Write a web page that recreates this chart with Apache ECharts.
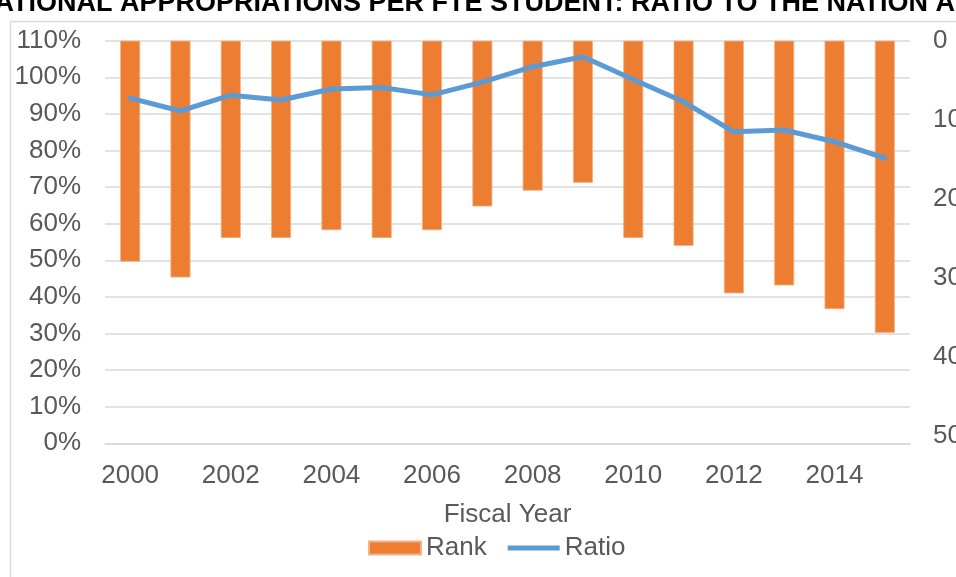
<!DOCTYPE html>
<html>
<head>
<meta charset="utf-8">
<script src="https://cdn.jsdelivr.net/npm/echarts@6/dist/echarts.min.js"></script>
<style>
  html, body { margin: 0; padding: 0; background: #fff; }
  #chart { width: 956px; height: 577px; }
</style>
</head>
<body>
<div id="chart"></div>
<script>
// Fiscal years on the category axis
const years = ['2000','2001','2002','2003','2004','2005','2006','2007',
               '2008','2009','2010','2011','2012','2013','2014','2015'];
// State rank among 51 (50 states + DC), drawn on the inverted right axis
const rank = [28, 30, 25, 25, 24, 25, 24, 21, 19, 18, 25, 26, 32, 31, 34, 37];
// Ratio to the national average, in percent
const ratio = [94.3, 90.8, 95.1, 93.8, 96.8, 97.2, 95.2, 98.7,
               102.9, 105.6, 99.4, 93.3, 85.1, 85.6, 82.4, 77.9];
const titleText = 'EDUCATIONAL APPROPRIATIONS PER FTE STUDENT: RATIO TO THE NATION AVERAGE';

const font = 'Arial, "Liberation Sans", sans-serif';
const grey = '#595959';
const gridGrey = '#d9d9d9';
const fs = 26;

const chart = echarts.init(document.getElementById('chart'), null, { renderer: 'canvas' });
chart.setOption({
  animation: false,
  backgroundColor: '#fff',
  textStyle: { fontFamily: font },
  graphic: [
    {
      type: 'rect', silent: true,
      shape: { x: 10.5, y: 21.5, width: 1000, height: 600 },
      style: { fill: 'none', stroke: gridGrey, lineWidth: 1.5 }
    },
    {
      type: 'text', silent: true, x: -82, y: 17,
      style: {
        text: titleText, fill: '#000',
        font: 'bold 27px ' + font, textVerticalAlign: 'bottom'
      }
    }
  ],
  grid: { left: 105, right: 46, top: 40.7, bottom: 133.7, outerBoundsMode: 'none', containLabel: false },
  legend: {
    bottom: 11, left: 363, itemGap: 21,
    itemWidth: 52, itemHeight: 13,
    textStyle: { color: grey, fontSize: fs, fontFamily: font },
    data: [
      { name: 'Rank', icon: 'rect' },
      { name: 'Ratio', icon: 'path://M0,0 L52,0 L52,5 L0,5 Z' }
    ]
  },
  xAxis: {
    type: 'category', data: years, boundaryGap: true,
    name: 'Fiscal Year', nameLocation: 'middle', nameGap: 59,
    nameTextStyle: { color: grey, fontSize: fs, fontFamily: font },
    axisLine: { show: true, lineStyle: { color: gridGrey, width: 1.5 } },
    axisTick: { show: false },
    axisLabel: { interval: 1, color: grey, fontSize: fs, margin: 20, fontFamily: font }
  },
  yAxis: [
    {
      type: 'value', min: 0, max: 110, interval: 10,
      axisLine: { show: false }, axisTick: { show: false },
      splitLine: { lineStyle: { color: gridGrey, width: 1.5 } },
      axisLabel: { color: grey, fontSize: fs, margin: 24, formatter: '{value}%', fontFamily: font }
    },
    {
      type: 'value', min: 0, max: 51, interval: 10, inverse: true,
      axisLine: { show: false }, axisTick: { show: false },
      splitLine: { show: false },
      axisLabel: {
        color: grey, fontSize: fs, margin: 23, fontFamily: font,
        formatter: v => (v % 10 === 0 ? String(v) : '')
      }
    }
  ],
  series: [
    {
      name: 'Rank', type: 'bar', yAxisIndex: 1, data: rank,
      barWidth: 20,
      itemStyle: { color: '#ed7d31', borderColor: '#f4b183', borderWidth: 0.8 }
    },
    {
      name: 'Ratio', type: 'line', yAxisIndex: 0, data: ratio,
      showSymbol: false, symbol: 'none',
      lineStyle: { color: '#5b9bd5', width: 5, cap: 'round', join: 'round' },
      itemStyle: { color: '#5b9bd5' }
    }
  ]
});
</script>
</body>
</html>
